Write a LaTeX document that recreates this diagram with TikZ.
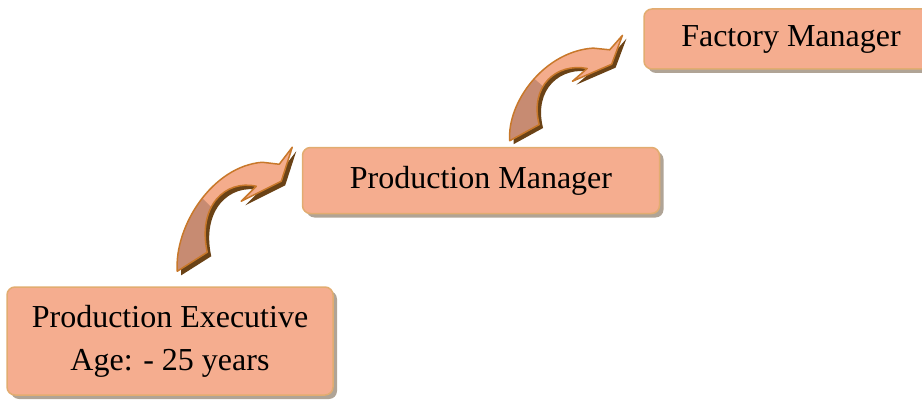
\documentclass[tikz,border=0pt]{standalone}
\usepackage{fontspec}
\setmainfont{Liberation Serif}
\usetikzlibrary{positioning,calc,shadows}

\definecolor{boxfill}{RGB}{245,173,143}
\definecolor{boxline}{RGB}{226,172,112}
\definecolor{boxshade}{RGB}{176,164,150}
\definecolor{arrlight}{RGB}{244,172,140}
\definecolor{arrdark}{RGB}{199,139,114}
\definecolor{arrline}{RGB}{200,120,42}
\definecolor{arrshade}{RGB}{106,66,22}

\begin{document}
\begin{tikzpicture}[x=1pt,y=1pt,
    post/.style={draw=boxline, line width=1.5pt, fill=boxfill, rounded corners=8pt,
      inner sep=0pt, align=center, font=\fontsize{32}{43}\selectfont,
      drop shadow={shadow xshift=4pt, shadow yshift=-4pt, fill=boxshade, opacity=1}},
    riser path/.style={insert path={(0,0) .. controls (-3,45) and (35,105) .. (85,109)
      -- (102,107) -- (115,124) -- (104,90) -- (64,70) -- (79,85)
      .. controls (48,92) and (20,65) .. (30,19) -- cycle}},
    riser/.pic={
      \fill[arrshade, shift={(4,-4)}, riser path];
      \fill[arrlight, riser path];
      \begin{scope}
        \clip[riser path];
        \fill[arrdark] (-30,-30) -- (-30,128) -- (128,-30) -- cycle;
      \end{scope}
      \draw[arrline, line width=1.5pt, line join=round, riser path];
    }]
    \useasboundingbox (0,0) rectangle (922,400);
    \clip (0,0) rectangle (922,400);

    \node[post, minimum width=326pt, minimum height=108pt] (exec) at (170,59)
      {Production Executive\\Age: - 25 years};
    \node[post, minimum width=357pt, minimum height=66pt]  (pm)
      [above right=72pt and -32pt of exec] {Production Manager};
    \node[post, minimum width=294pt, minimum height=60pt]  (fm)
      [above right=77pt and -17pt of pm] {Factory Manager};

    \pic at ($(exec.north west)+(171,15)$) {riser};
    \pic[yscale=0.85, xscale=0.98] at ($(pm.north west)+(208,6)$) {riser};
  \end{tikzpicture}
\end{document}
